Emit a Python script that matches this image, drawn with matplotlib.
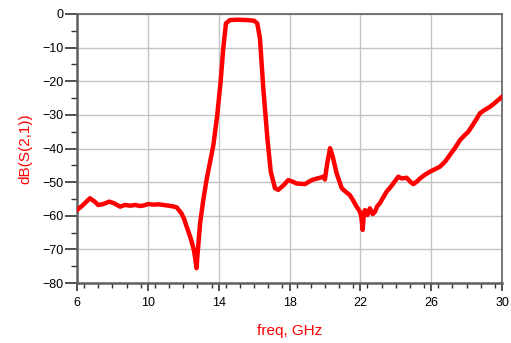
#!/usr/bin/env python3
"""S21 response plot (dB vs frequency)."""

import matplotlib
matplotlib.use("Agg")
import matplotlib.pyplot as plt
from matplotlib.ticker import MultipleLocator

# traced curve: frequency (GHz) and dB(S(2,1))
freq = [6.0, 6.3, 6.73, 7.0, 7.2, 7.5, 7.82, 8.1, 8.43, 8.7, 9.0, 9.3, 9.56,
        9.8, 10.03, 10.3, 10.6, 10.9, 11.16, 11.4, 11.63, 11.9, 12.05, 12.19,
        12.42, 12.6, 12.7, 12.75, 12.81, 12.95, 13.13, 13.32, 13.7, 13.92,
        14.11, 14.26, 14.41, 14.64, 15.1, 15.58, 16.0, 16.18, 16.33, 16.52,
        16.75, 16.94, 17.18, 17.37, 17.65, 17.93, 18.15, 18.4, 18.87, 19.25,
        19.5, 19.72, 19.9, 20.0, 20.13, 20.29, 20.44, 20.66, 20.95, 21.2,
        21.4, 21.6, 21.79, 21.98, 22.06, 22.13, 22.2, 22.26, 22.4, 22.54,
        22.7, 22.83, 22.95, 23.1, 23.3, 23.49, 23.7, 23.86, 24.14, 24.33,
        24.62, 24.8, 24.99, 25.2, 25.37, 25.65, 25.93, 26.2, 26.5, 26.8,
        27.06, 27.35, 27.63, 27.9, 28.1, 28.47, 28.76, 29.0, 29.32, 29.65,
        30.0]
s21 = [-58.3, -57.0, -54.8, -55.8, -56.8, -56.5, -55.8, -56.3, -57.3, -56.8,
       -57.0, -56.8, -57.1, -56.9, -56.5, -56.7, -56.6, -56.8, -57.0, -57.2,
       -57.5, -59.3, -61.0, -63.2, -66.7, -70.2, -73.5, -75.6, -71.2, -62.3,
       -55.3, -49.2, -39.0, -30.0, -20.1, -10.2, -2.8, -1.8, -1.7, -1.8,
       -2.0, -2.8, -7.2, -22.1, -37.0, -46.9, -51.8, -52.3, -51.0, -49.4,
       -49.8, -50.4, -50.6, -49.4, -49.0, -48.7, -48.4, -49.2, -44.4, -39.9,
       -42.4, -47.4, -51.8, -53.0, -53.8, -55.5, -57.3, -58.8, -60.5, -64.2,
       -59.5, -58.3, -59.8, -57.8, -59.5, -58.8, -57.2, -56.3, -54.5, -52.8,
       -51.5, -50.4, -48.4, -48.9, -48.7, -49.8, -50.6, -49.8, -48.9, -47.8,
       -46.9, -46.2, -45.4, -43.8, -41.9, -39.8, -37.5, -36.0, -35.0, -32.0,
       -29.5, -28.6, -27.6, -26.2, -24.6]

x_labels = [6, 10, 14, 18, 22, 26, 30]
y_labels = [0, -10, -20, -30, -40, -50, -60, -70, -80]

RED = "#ff0000"
AXC = "#606060"


def main():
    plt.rcParams["font.family"] = ["Liberation Sans", "DejaVu Sans"]
    fig = plt.figure(figsize=(5.11, 3.43), dpi=100)
    ax = fig.add_axes([0.1507, 0.1749, 0.8317, 0.7843])

    ax.plot(freq, s21, color=RED, linewidth=3.2, solid_joinstyle="round",
            solid_capstyle="round", zorder=3)

    ax.set_xlim(6, 30)
    ax.set_ylim(-80, 0)
    ax.set_xticks(x_labels)
    ax.set_yticks(y_labels)
    ax.xaxis.set_minor_locator(MultipleLocator(0.8))
    ax.yaxis.set_minor_locator(MultipleLocator(5))

    ax.grid(True, which="major", color="#c4c4c4", linewidth=1.0)
    ax.set_axisbelow(True)

    for side in ["left", "bottom"]:
        ax.spines[side].set_color(AXC)
        ax.spines[side].set_linewidth(1.8)
    for side in ["top", "right"]:
        ax.spines[side].set_color(AXC)
        ax.spines[side].set_linewidth(1.2)

    ax.tick_params(axis="x", which="major", length=6, width=1.2, color="#333333",
                   labelsize=9, pad=4)
    ax.tick_params(axis="x", which="minor", length=3.8, width=1.0, color="#333333")
    ax.tick_params(axis="y", which="major", length=8.5, width=1.2, color="#333333",
                   labelsize=9, pad=1)
    ax.tick_params(axis="y", which="minor", length=4.3, width=1.0, color="#333333")

    ax.set_xlabel("freq, GHz", color=RED, fontsize=11, labelpad=11)
    ax.set_ylabel("dB(S(2,1))", color=RED, fontsize=11, labelpad=7)

    fig.savefig("out.png", dpi=100)
    plt.close(fig)


if __name__ == "__main__":
    main()
